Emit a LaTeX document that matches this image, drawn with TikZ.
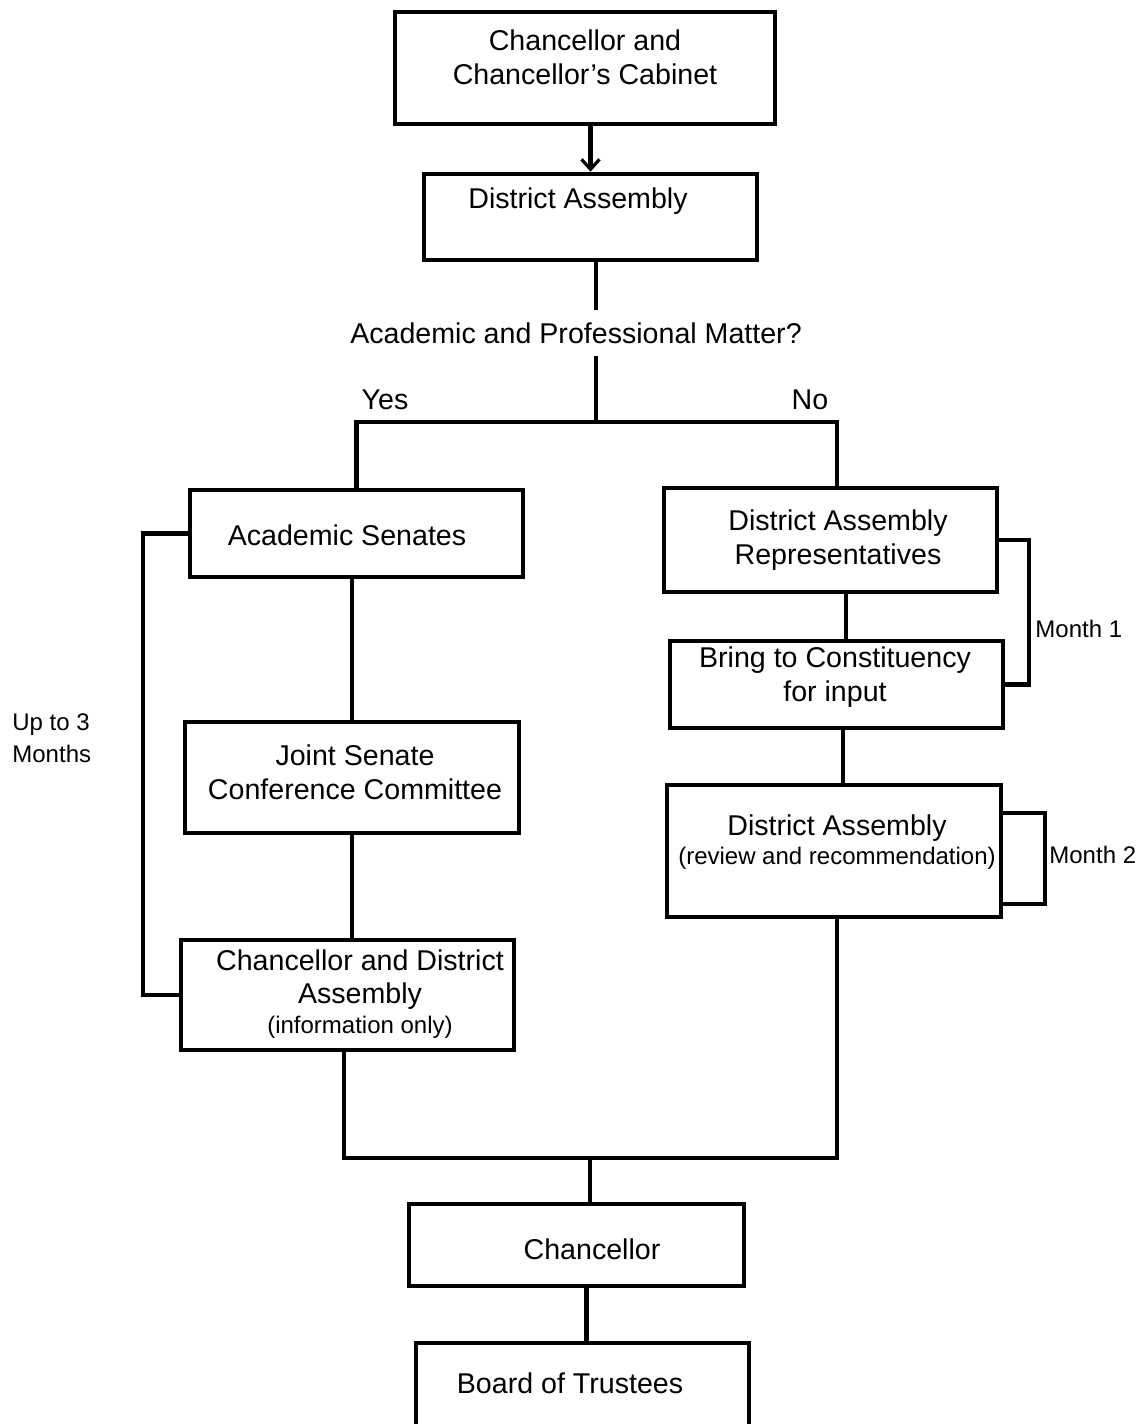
\documentclass[tikz,border=0pt]{standalone}
\usepackage{fontspec}
\setmainfont{Liberation Sans}
\usetikzlibrary{arrows.meta,positioning}
\newcommand{\smalltxt}[1]{{\fontsize{12}{14}\selectfont #1}}
\tikzset{
  box/.style={draw=black,line width=2.3pt,minimum width=166.5pt,inner sep=0pt},
  txt/.style={align=center,inner sep=0pt,font=\fontsize{14.3}{16.8}\selectfont},
  side/.style={align=left,inner sep=0pt,anchor=west,font=\fontsize{12}{16}\selectfont},
  link/.style={line width=2.1pt,black},
  flow/.style={link,-{Straight Barb[length=5pt,width=9pt,line width=1.6pt]}},
}
\begin{document}
\begin{tikzpicture}[x=0.5pt,y=-0.5pt]
\useasboundingbox (0,0) rectangle (1137,1424);
\node[box,minimum width=190pt,minimum height=56pt] (cab) at (585,68) {};
\node[txt] (cab-t) at (585,57) {Chancellor and\\Chancellor's Cabinet};
\node[box,minimum height=43pt] (da) at (590.5,217) {};
\node[txt] (da-t) at (578,201) {District Assembly};
\node[txt,minimum height=23pt] (q) at (576,333) {Academic and Professional Matter?};
\coordinate (split) at (596,422);
\node[txt] (yes) at (385,400) {Yes};
\node[txt] (no) at (810,400) {No};
\node[box,minimum height=43.5pt] (sen) at (356.5,533.5) {};
\node[txt] (sen-t) at (347,535) {Academic Senates};
\node[box,minimum width=167pt,minimum height=55.5pt] (jscc) at (352,777.5) {};
\node[txt] (jscc-t) at (355,772) {Joint Senate\\Conference Committee};
\node[box,minimum height=55pt] (cda) at (347.5,995) {};
\node[txt] (cda-t) at (360,994) {Chancellor and District\\Assembly\\[-2pt]\smalltxt{(information only)}};
\node[side] (up3) at (12,738) {Up to 3\\Months};
\node[box,minimum height=52pt] (dar) at (830.5,540) {};
\node[txt] (dar-t) at (838,540) {District Assembly\\Representatives};
\node[box,minimum height=43.5pt] (bci) at (836.5,684.5) {};
\node[txt] (bci-t) at (835,677) {Bring to Constituency\\for input};
\node[side] (m1) at (1035,629) {Month 1};
\node[box,minimum width=167pt,minimum height=66pt] (darr) at (834,851) {};
\node[txt] (darr-t) at (837,842) {District Assembly\\[-2pt]\smalltxt{(review and recommendation)}};
\node[side] (m2) at (1049,855) {Month 2};
\coordinate (join) at (590,1158);
\node[box,minimum width=167.5pt,minimum height=41pt] (chan) at (576.5,1245) {};
\node[txt] (chan-t) at (592,1249) {Chancellor};
\node[box,minimum height=43.5pt] (bot) at (582.5,1386.5) {};
\node[txt] (bot-t) at (570,1383) {Board of Trustees};
\draw[flow] (cab.south -| da) -- (da.north);
\draw[link] (da.south -| split) -- (q.north -| split);
\draw[link] (q.south -| split) -- (split);
\draw[link] (split) -| (sen.north);
\draw[link] (split) -| ([xshift=3.25pt]dar.north);
\draw[link] (sen.south -| jscc) -- (jscc.north);
\draw[link] (jscc.south) -- (jscc.south |- cda.north);
\draw[link] (sen.west) -- ++(-45,0) |- (cda.west);
\draw[link] ([xshift=4.75pt]bci.north |- dar.south) -- ([xshift=4.75pt]bci.north);
\draw[link] (dar.east) -- ++(30,0) |- (bci.east);
\draw[link] ([xshift=3.25pt]bci.south) -- ([xshift=3.25pt]bci.south |- darr.north);
\draw[link] ([yshift=19pt]darr.east) -- ++(42,0) |- ([yshift=-26.5pt]darr.east);
\draw[link] ([xshift=-1.75pt]cda.south) |- ([xshift=1.5pt]darr.south |- join) -- ([xshift=1.5pt]darr.south);
\draw[link] (join) -- (join |- chan.north);
\draw[link] ([xshift=5pt]chan.south) -- ([xshift=5pt]chan.south |- bot.north);
\end{tikzpicture}
\end{document}
